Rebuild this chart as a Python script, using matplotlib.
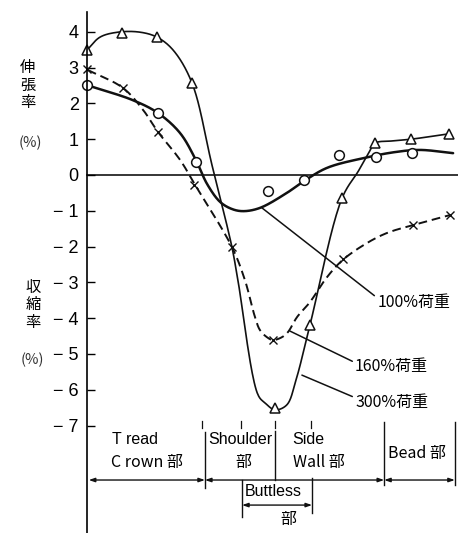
import numpy as np
import matplotlib
matplotlib.use("Agg")
import matplotlib.pyplot as plt

CJK = ['Noto Sans CJK JP', 'DejaVu Sans']
LAT = ['Liberation Sans', 'DejaVu Sans']

# ---------------- data (position along tire section, strain %) ----------------
# 100% load: measured points (circles) and drawn smooth curve
x100_pts = [0.0, 2.03, 3.11, 5.17, 6.2, 7.2, 8.26, 9.29]
y100_pts = [2.51, 1.73, 0.36, -0.45, -0.14, 0.56, 0.50, 0.62]
x100_curve = [0.0, 1.31, 2.03, 2.66, 3.11, 3.43, 3.8, 4.14, 4.46, 4.94, 5.71, 6.2, 6.86, 7.89, 8.8, 9.51, 10.46]
y100_curve = [2.51, 2.09, 1.73, 1.17, 0.42, -0.25, -0.75, -0.95, -1.01, -0.92, -0.5, -0.17, 0.2, 0.47, 0.64, 0.7, 0.61]

# 160% load: measured points (x marks) and dashed curve
x160_pts = [0.0, 1.03, 2.03, 3.06, 4.14, 5.31, 7.31, 9.31, 10.37]
y160_pts = [2.96, 2.43, 1.2, -0.28, -2.01, -4.61, -2.35, -1.4, -1.12]
x160_curve = [0.03, 1.03, 1.6, 2.03, 2.66, 3.09, 4.14, 4.51, 4.8, 4.94, 5.14, 5.31, 5.57, 5.74,
              6.0, 6.37, 6.86, 7.31, 8.0, 8.57, 9.31, 10.37]
y160_curve = [2.93, 2.43, 1.82, 1.2, 0.42, -0.28, -2.01, -2.93, -3.97, -4.33, -4.53, -4.61, -4.53, -4.39,
              -3.97, -3.55, -2.85, -2.37, -1.9, -1.62, -1.4, -1.12]

# 300% load: measured points (triangles) and curve
x300_pts = [0.0, 1.0, 2.0, 3.0, 5.37, 6.37, 7.29, 8.23, 9.26, 10.34]
y300_pts = [3.49, 3.97, 3.85, 2.57, -6.51, -4.19, -0.64, 0.89, 1.0, 1.15]
x300_curve = [0.0, 0.37, 0.89, 1.51, 2.0, 2.46, 3.0, 3.57, 4.14, 4.31, 4.89, 5.09, 5.37, 5.71,
              5.97, 6.37, 7.29, 7.76, 8.05, 8.23, 8.7, 9.26, 10.34]
y300_curve = [3.49, 3.85, 3.99, 3.99, 3.85, 3.49, 2.57, 0.28, -2.01, -2.93, -6.15, -6.37, -6.56, -6.42,
              -5.73, -4.19, -0.64, 0.12, 0.62, 0.89, 0.95, 1.0, 1.15]

yticks = [4, 3, 2, 1, 0, -1, -2, -3, -4, -5, -6, -7]
ytick_labels = ['4', '3', '2', '1', '0', '− 1', '− 2', '− 3', '− 4', '− 5', '− 6', '− 7']

labels = ['100%荷重', '160%荷重', '300%荷重']


def smooth(xs, ys, n=24):
    """Centripetal Catmull-Rom drawing path through the read curve knots."""
    P = np.column_stack([xs, ys]).astype(float)
    P = np.vstack([2 * P[0] - P[1], P, 2 * P[-1] - P[-2]])
    out = []
    for i in range(1, len(P) - 2):
        p0, p1, p2, p3 = P[i - 1], P[i], P[i + 1], P[i + 2]
        t0 = 0.0
        t1 = t0 + np.linalg.norm(p1 - p0) ** 0.5
        t2 = t1 + np.linalg.norm(p2 - p1) ** 0.5
        t3 = t2 + np.linalg.norm(p3 - p2) ** 0.5
        t = np.linspace(t1, t2, n)[:, None]
        a1 = (t1 - t) / (t1 - t0) * p0 + (t - t0) / (t1 - t0) * p1
        a2 = (t2 - t) / (t2 - t1) * p1 + (t - t1) / (t2 - t1) * p2
        a3 = (t3 - t) / (t3 - t2) * p2 + (t - t2) / (t3 - t2) * p3
        b1 = (t2 - t) / (t2 - t0) * a1 + (t - t0) / (t2 - t0) * a2
        b2 = (t3 - t) / (t3 - t1) * a2 + (t - t1) / (t3 - t1) * a3
        c = (t2 - t) / (t2 - t1) * b1 + (t - t1) / (t2 - t1) * b2
        out.append(c if i == 1 else c[1:])
    C = np.vstack(out)
    return C[:, 0], C[:, 1]


fig = plt.figure(figsize=(4.58, 5.33), dpi=100)
ax = fig.add_axes([0, 0, 1, 1])
ax.set_xlim(-2.486, 10.6)
ax.set_ylim(-10.0, 4.888)

for s in ['top', 'right', 'bottom']:
    ax.spines[s].set_visible(False)
ax.spines['left'].set_position(('data', 0))
ax.spines['left'].set_bounds(-10.0, 4.55)
ax.spines['left'].set_linewidth(1.2)
ax.set_xticks([])
ax.set_yticks(yticks)
ax.set_yticklabels(ytick_labels, fontfamily=LAT, fontsize=13)
ax.tick_params(axis='y', direction='in', length=6, width=1, pad=6, colors='black')

# zero line
ax.plot([0, 10.6], [0, 0], color='black', lw=1.1)

ink = '#111111'
# curves
cx, cy = smooth(x100_curve, y100_curve)
ax.plot(cx, cy, color=ink, lw=1.8, solid_capstyle='round')
cx, cy = smooth(x160_curve, y160_curve)
ax.plot(cx, cy, color=ink, lw=1.4, dashes=(4.5, 2.5))
cx, cy = smooth(x300_curve, y300_curve)
ax.plot(cx, cy, color=ink, lw=1.2)

# markers
ax.plot(x100_pts, y100_pts, 'o', ms=7, mfc='white', mec=ink, mew=1.1, ls='none')
ax.plot(x160_pts, y160_pts, 'x', ms=6, mec=ink, mew=1.0, ls='none')
ax.plot(x300_pts, y300_pts, '^', ms=7.5, mfc='white', mec=ink, mew=1.1, ls='none')

# leader lines and labels
lead = dict(arrowstyle='-', lw=1.1, color=ink, shrinkA=0, shrinkB=0)
ax.annotate(labels[0], xy=(5.0, -0.92), xytext=(8.29, -3.55), fontsize=11.5, family=CJK,
            va='center', ha='left', arrowprops=dict(relpos=(0, 0.75), **lead))
ax.annotate(labels[1], xy=(5.8, -4.36), xytext=(7.66, -5.36), fontsize=11.5, family=CJK,
            va='center', ha='left', arrowprops=dict(relpos=(0, 0.75), **lead))
ax.annotate(labels[2], xy=(6.14, -5.59), xytext=(7.66, -6.34), fontsize=11.5, family=CJK,
            va='center', ha='left', arrowprops=dict(relpos=(0, 0.75), **lead))

# y-axis titles (vertical)
ax.text(-1.69, 2.51, '伸\n張\n率', fontsize=11, family=CJK, ha='center', va='center', linespacing=1.05)
ax.text(-1.63, 0.89, '(%)', fontsize=10.5, family=CJK, ha='center', va='center', color='#333333')
ax.text(-1.54, -3.63, '収\n縮\n率', fontsize=11, family=CJK, ha='center', va='center', linespacing=1.05)
ax.text(-1.57, -5.17, '(%)', fontsize=10.5, family=CJK, ha='center', va='center', color='#333333')

# ---------------- region scale beneath the chart ----------------
lw_r = 1.0
# small position ticks
for xt in [3.29, 4.40, 5.37, 6.40]:
    ax.plot([xt, xt], [-6.88, -7.08], color=ink, lw=0.9)
# dividers
ax.plot([3.37, 3.37], [-7.18, -8.74], color=ink, lw=lw_r)
ax.plot([5.37, 5.37], [-7.15, -8.52], color=ink, lw=lw_r)
ax.plot([8.49, 8.49], [-6.9, -8.66], color=ink, lw=lw_r)
ax.plot([10.51, 10.51], [-6.9, -8.66], color=ink, lw=lw_r)
# dimension line
arr = dict(arrowstyle='<|-|>,head_length=0.35,head_width=0.12', lw=lw_r, color=ink, shrinkA=0, shrinkB=0)
for a, b in [(0.05, 3.37), (3.37, 8.49), (8.49, 10.51)]:
    ax.annotate('', xy=(b, -8.52), xytext=(a, -8.52), arrowprops=arr)

tfs = 11.5
ax.text(0.71, -7.40, 'T read', fontsize=tfs, family=LAT, ha='left', va='center')
ax.text(0.69, -8.04, 'C rown 部', fontsize=tfs, family=CJK, ha='left', va='center')
ax.text(3.46, -7.40, 'Shoulder', fontsize=tfs, family=LAT, ha='left', va='center')
ax.text(4.46, -8.04, '部', fontsize=tfs, family=CJK, ha='center', va='center')
ax.text(5.86, -7.40, 'Side', fontsize=tfs, family=LAT, ha='left', va='center')
ax.text(5.89, -8.04, 'Wall 部', fontsize=tfs, family=CJK, ha='left', va='center')
ax.text(8.6, -7.77, 'Bead 部', fontsize=tfs, family=CJK, ha='left', va='center')

# Buttless bracket
ax.plot([4.43, 4.43], [-8.52, -9.55], color=ink, lw=lw_r)
ax.plot([6.43, 6.43], [-8.45, -9.45], color=ink, lw=lw_r)
ax.annotate('', xy=(6.43, -9.22), xytext=(4.43, -9.22), arrowprops=arr)
ax.text(4.5, -8.85, 'Buttless', fontsize=tfs, family=LAT, ha='left', va='center')
ax.text(5.74, -9.62, '部', fontsize=tfs, family=CJK, ha='center', va='center')

fig.savefig('out.png', dpi=100, facecolor='white')
